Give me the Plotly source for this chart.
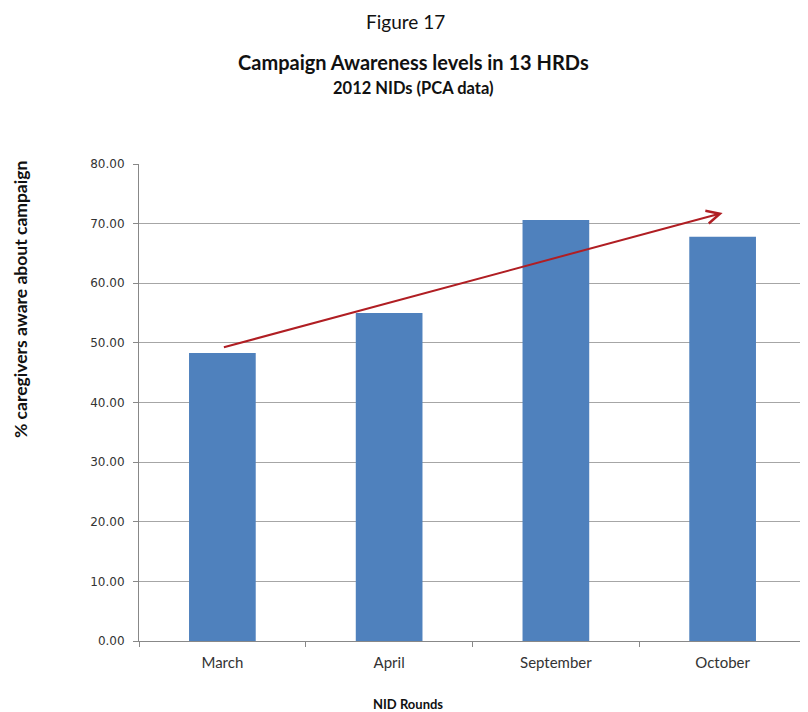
import plotly.graph_objects as go

rounds = ["March", "April", "September", "October"]
awareness = [48.3, 55.0, 70.6, 67.8]
y_ticks = [0, 10, 20, 30, 40, 50, 60, 70, 80]
y_tick_labels = ["%.2f" % v for v in y_ticks]

# trend arrow drawn by hand on the original: from March to October
arrow_start = (0, 49.2)
arrow_end = (3, 71.8)

# page body has an 8px margin, so figure pixels = page pixels - 8
L, T, W, H = 131, 156, 667, 477

def px(x):
	return (x - 8 - L) / W

def py(y):
	return (T + H - (y - 8)) / H

fig = go.Figure()
fig.add_trace(go.Bar(
	x=rounds,
	y=awareness,
	width=0.4,
	marker=dict(color="#4F81BD", line=dict(width=0)),
	showlegend=False
))

fig.add_annotation(
	x=arrow_end[0], y=arrow_end[1],
	ax=arrow_start[0], ay=arrow_start[1],
	xref="x", yref="y", axref="x", ayref="y",
	showarrow=True, arrowhead=5, arrowsize=1.3, arrowwidth=2,
	arrowcolor="#B01E23", text=""
)

texts = [
	# text, page x, page y, size, angle
	("Figure 17", 405, 22, 19, 0),
	("<b>Campaign Awareness levels in 13 HRDs</b>", 413, 62, 20, 0),
	("<b>2012 NIDs (PCA data)</b>", 413, 88, 16.5, 0),
	("<b>NID Rounds</b>", 408, 704, 13, 0),
	("<b>% caregivers aware about campaign</b>", 20, 300, 17.5, -90),
]
for text, x, y, size, angle in texts:
	fig.add_annotation(
		text=text, x=px(x), y=py(y), xref="paper", yref="paper",
		showarrow=False, textangle=angle, xanchor="center", yanchor="middle",
		font=dict(family="Lato", size=size, color="#111")
	)

fig.update_layout(
	width=800, height=704,
	margin=dict(l=L, r=2, t=T, b=704 - T - H),
	paper_bgcolor="white", plot_bgcolor="white",
	xaxis=dict(
		type="category",
		showline=True, linecolor="#888", linewidth=1,
		ticks="outside", tickson="boundaries", ticklen=5, tickcolor="#888",
		tickfont=dict(family="Lato", size=15, color="#333"),
		ticklabelstandoff=8,
		showgrid=False
	),
	yaxis=dict(
		range=[0, 80],
		tickvals=y_ticks, ticktext=y_tick_labels,
		showline=True, linecolor="#888", linewidth=1,
		ticks="outside", ticklen=5, tickcolor="#888",
		tickfont=dict(family="DejaVu Sans", size=12, color="#333"),
		ticklabelstandoff=6,
		showgrid=True, gridcolor="#a6a6a6", gridwidth=1,
		zeroline=False
	)
)

fig.write_html("out.html")
